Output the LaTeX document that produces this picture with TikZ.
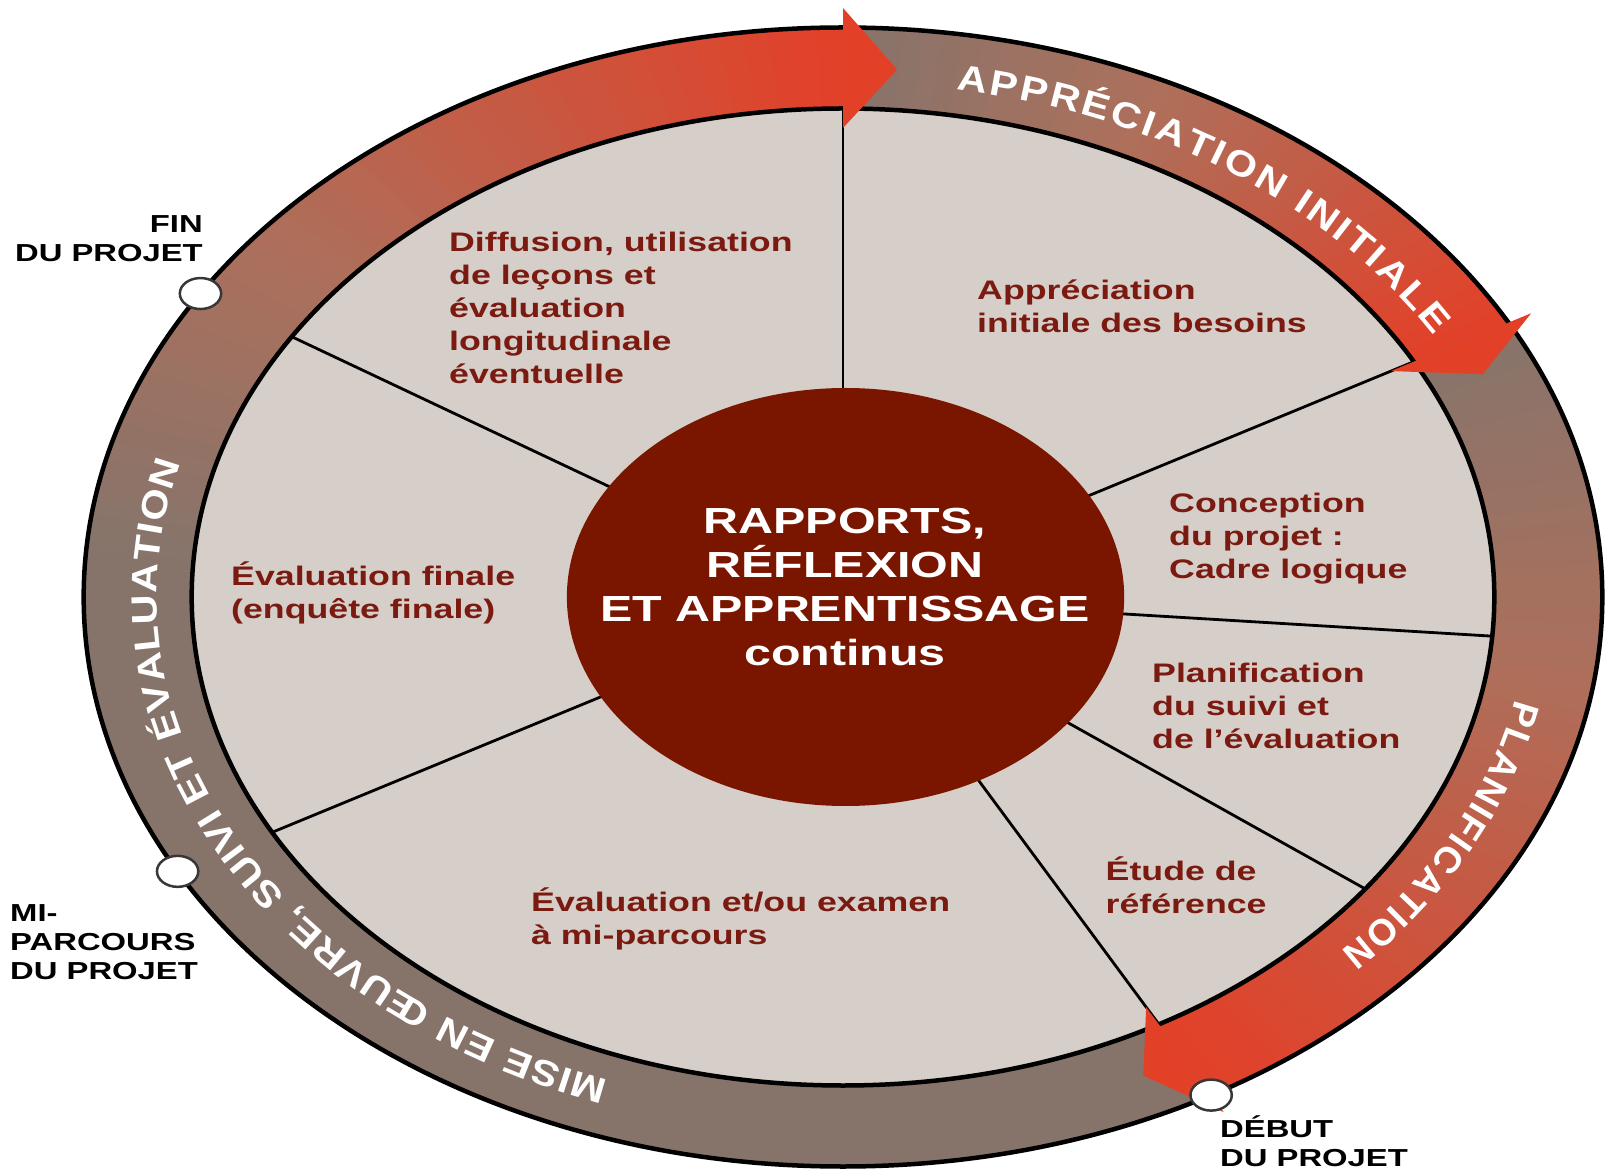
\documentclass[tikz,border=0pt]{standalone}
\usepackage{fontspec}
\setmainfont{Liberation Sans}
\newfontfamily\labfont{Liberation Sans}[FakeStretch=1.3333]
\newfontfamily\ringfontA{Liberation Sans}[FakeStretch=1.15]
\newfontfamily\ringfontB{Liberation Sans}
\usetikzlibrary{decorations.text}
\definecolor{ringgray}{RGB}{134,116,107}
\definecolor{ringbrown}{RGB}{172,112,92}
\definecolor{ringred}{RGB}{227,64,40}
\definecolor{diskfill}{RGB}{214,206,200}
\definecolor{corefill}{RGB}{122,22,0}
\definecolor{labred}{RGB}{122,26,16}
\definecolor{dotline}{RGB}{55,55,55}
\newcommand\ringA{\color{white}\ringfontA\bfseries\fontsize{36}{36}\selectfont}
\newcommand\ringB{\color{white}\ringfontB\bfseries\fontsize{37}{37}\selectfont}
% #1 start angle, #2 gradient start angle, #3 end angle, #4 steps
\newcommand\shaft[4]{%
  \pgfmathsetmacro\stepang{(#3-(#1))/#4}%
  \foreach \kk in {1,...,#4}{%
    \pgfmathsetmacro\angA{#1+\stepang*(\kk-1)}%
    \pgfmathsetmacro\angB{#1+\stepang*\kk-0.4}%
    \pgfmathsetmacro\angM{#1+\stepang*(\kk-0.5)}%
    \pgfmathsetmacro\uu{max(0,min(1,(#2-\angM)/(#2-(#3))))}%
    \pgfmathtruncatemacro\qa{100*max(0,1-\uu/0.4)}%
    \pgfmathtruncatemacro\qb{100*min(1,(1-\uu)/0.6)}%
    \fill[ringgray!\qa!ringbrown!\qb!ringred] (\angA:488.5)
      arc[start angle=\angA, end angle=\angB, radius=488.5]
      -- (\angB:569.5) arc[start angle=\angB, end angle=\angA, radius=569.5] -- cycle;
  }%
}
\begin{document}
\begin{tikzpicture}[x=1pt,y=1pt,
  segtext/.style={font=\labfont\bfseries\fontsize{26.8}{33}\selectfont, text=labred, align=left, inner sep=0pt, anchor=west},
  tagtext/.style={font=\labfont\bfseries\fontsize{24.6}{29}\selectfont, text=black, inner sep=0pt},
  coretext/.style={font=\labfont\bfseries\fontsize{36.3}{44}\selectfont, text=white, align=center, inner sep=0pt},
  spoke/.style={line width=2.8pt, black},
  border/.style={line width=4.5pt, black},
  milestone/.style={fill=white, draw=dotline, line width=2.5pt},
  headfill/.style={fill=ringred},
  ringtext/.style={decorate, decoration={text along path, text align={fit to path}, text={#1}}}
]
\useasboundingbox (-843,-572) rectangle (765,597);
\begin{scope}[xscale=1.3333]
  % ring shafts with gradients
  \shaft{90}{90}{28.8}{40}
  \shaft{28.8}{28.8}{-61}{60}
  \shaft{-61}{-185}{-270}{110}
  % light disk
  \fill[diskfill] (0,0) circle[radius=488.5];
  % spokes
  \foreach \a [count=\i] in {90,28.8,-4.6,-36.7,-61,-151.2,147.8}{
    \coordinate (sin\i) at (\a:205);
    \coordinate (sout\i) at (\a:488.5);
    \draw[spoke] (sin\i) -- (sout\i);
  }
  % ring borders
  \draw[border] (0,0) circle[radius=569.5];
  \draw[border] (0,0) circle[radius=488.5];
  % core
  \fill[corefill] (1.9,0) circle[radius=209];
  % arrow heads
  \fill[headfill] (90:469) -- (90:589) -- (85.6:529) -- cycle;
  \fill[headfill] (28.8:469) -- (28.8:589) -- (24.9:529) -- cycle;
  \fill[headfill] (-61:469) -- (-61:589) -- (-64.8:529) -- cycle;
  % milestones
  \path[milestone] (147.8:569.5) circle[radius=15.5];
  \path[milestone] (-151.2:569.5) circle[radius=15.5];
  \path[milestone] (-61:569.5) circle[radius=15.5];
\end{scope}
% ring texts
\path[ringtext={|\ringA|APPRÉCIATION INITIALE}]
  (80.5:686 and 514.5) arc[start angle=80.5, end angle=30.5, x radius=686, y radius=514.5];
\path[ringtext={|\ringB|PLANIFICATION}]
  (-11.5:686 and 514.5) arc[start angle=-11.5, end angle=-43.5, x radius=686, y radius=514.5];
\path[ringtext={|\ringA|MISE EN ŒUVRE, SUIVI ET ÉVALUATION}]
  (-110:686 and 514.5) arc[start angle=-110, end angle=-195, x radius=686, y radius=514.5];
% center
\node[coretext] (core) at (2,10) {RAPPORTS,\\RÉFLEXION\\ET APPRENTISSAGE\\continus};
% segment labels
\node[segtext] (lab1) at (-394,289.5) {Diffusion, utilisation\\de leçons et\\évaluation\\longitudinale\\éventuelle};
\node[segtext] (lab2) at (134,290.5) {Appréciation\\initiale des besoins};
\node[segtext] (lab3) at (326,58) {Conception\\du projet :\\Cadre logique};
\node[segtext] (lab4) at (309,-109) {Planification\\du suivi et\\de l’évaluation};
\node[segtext] (lab5) at (262.5,-288) {Étude de\\référence};
\node[segtext] (lab6) at (-312,-322) {Évaluation et/ou examen\\à mi-parcours};
\node[segtext] (lab7) at (-612,4) {Évaluation finale\\(enquête finale)};
% milestone tags
\node[tagtext, anchor=east, align=right] (fin) at (-640,358.5) {FIN\\DU PROJET};
\node[tagtext, anchor=west, align=left] (mid) at (-833,-345) {MI-\\PARCOURS\\DU PROJET};
\node[tagtext, anchor=west, align=left] (debut) at (377,-544) {DÉBUT\\DU PROJET};
\end{tikzpicture}
\end{document}
